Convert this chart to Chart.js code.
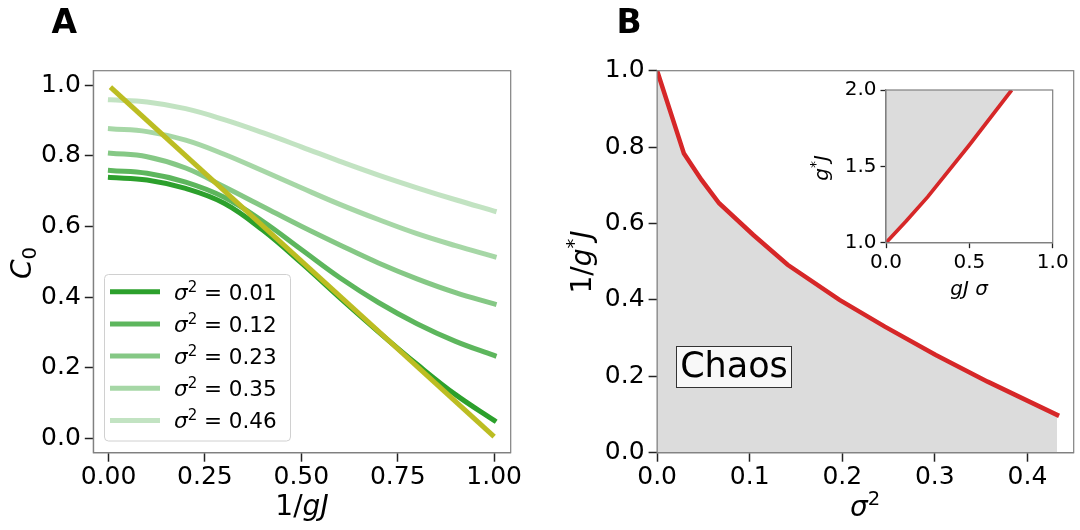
<!DOCTYPE html>
<html>
<head>
<meta charset="utf-8">
<script src="https://cdn.jsdelivr.net/npm/chart.js@4.4.1/dist/chart.umd.min.js"></script>
<style>
  html, body { margin: 0; padding: 0; background: #fff; }
  #wrap { position: relative; width: 1080px; height: 530px; overflow: hidden; }
  #wrap canvas { position: absolute; }
</style>
</head>
<body>
<div id="wrap">
  <canvas id="chartA" width="540" height="530" style="left:0;top:0"></canvas>
  <canvas id="chartB" width="540" height="530" style="left:540px;top:0"></canvas>
  <canvas id="chartInset" width="280" height="260" style="left:800px;top:60px"></canvas>
</div>
<script>
// === DATA ===
// panel A : C0 vs 1/gJ
const invGJ = [0.005, 0.1, 0.2, 0.3, 0.4, 0.5, 0.6, 0.7, 0.8, 0.9, 1.0];
const sigmaSq = ["0.01", "0.12", "0.23", "0.35", "0.46"];
const c0_s001 = [0.739, 0.732, 0.708, 0.666, 0.590, 0.497, 0.398, 0.302, 0.210, 0.124, 0.051];
const c0_s012 = [0.759, 0.751, 0.726, 0.683, 0.615, 0.535, 0.455, 0.385, 0.325, 0.275, 0.235];
const c0_s023 = [0.808, 0.798, 0.766, 0.713, 0.657, 0.601, 0.548, 0.497, 0.452, 0.413, 0.381];
const c0_s035 = [0.877, 0.869, 0.845, 0.805, 0.758, 0.710, 0.663, 0.620, 0.580, 0.546, 0.515];
const c0_s046 = [0.959, 0.953, 0.934, 0.903, 0.866, 0.826, 0.785, 0.746, 0.710, 0.676, 0.644];
const diagX = [0.005, 1.0];
const diagY = [0.995, 0.005];

// panel B : critical 1/g*J vs sigma^2
const sigma2 = [0, 0.029, 0.048, 0.067, 0.104, 0.141, 0.197, 0.246, 0.301, 0.357, 0.432];
const invGStarJ = [1.0, 0.783, 0.714, 0.653, 0.570, 0.492, 0.400, 0.330, 0.256, 0.186, 0.099];

// inset : g*J vs gJ sigma
const gJsigma = [0, 0.12, 0.25, 0.5, 0.754];
const gStarJ = [1.0, 1.14, 1.30, 1.64, 2.0];

// tick values
const ticksA_x = [0, 0.25, 0.5, 0.75, 1.0];
const ticksA_y = [0, 0.2, 0.4, 0.6, 0.8, 1.0];
const ticksB_x = [0, 0.1, 0.2, 0.3, 0.4];
const ticksB_y = [0, 0.2, 0.4, 0.6, 0.8, 1.0];
const ticksIn_x = [0, 0.5, 1.0];
const ticksIn_y = [1.0, 1.5, 2.0];

// === STYLE ===
const FF = '"DejaVu Sans", sans-serif';
const SPINE = "#808080";
const greenAlpha = [1.0, 0.77, 0.58, 0.42, 0.29];

function fnt(size, style) {
  return (style ? style + " " : "") + size + "px " + FF;
}

// draw text made of several runs (italic / sub / superscript)
function drawRuns(ctx, runs, x, y, align) {
  let total = 0;
  runs.forEach(r => { ctx.font = r.font; r.w = ctx.measureText(r.text).width; total += r.w; });
  let cx = align === "center" ? x - total / 2 : (align === "right" ? x - total : x);
  ctx.textAlign = "left";
  ctx.textBaseline = "alphabetic";
  ctx.fillStyle = "#000";
  runs.forEach(r => { ctx.font = r.font; ctx.fillText(r.text, cx, y + (r.dy || 0)); cx += r.w; });
}

function drawRotated(ctx, runs, x, y) {
  ctx.save();
  ctx.translate(x, y);
  ctx.rotate(-Math.PI / 2);
  drawRuns(ctx, runs, 0, 0, "center");
  ctx.restore();
}

function fixBox(size) {
  return function (scale) {
    if (scale.isHorizontal()) scale.height = size; else scale.width = size;
    scale.paddingLeft = 0; scale.paddingRight = 0;
    scale.paddingTop = 0; scale.paddingBottom = 0;
  };
}

function axis(min, max, tickVals, digits, o) {
  return {
    type: "linear", min: min, max: max,
    afterFit: fixBox(o.size),
    afterBuildTicks: s => { s.ticks = tickVals.map(v => ({ value: v })); },
    border: { display: true, color: SPINE, width: 1.2 },
    grid: { drawOnChartArea: false, drawTicks: true, tickLength: o.tick, tickWidth: o.tw, tickColor: "#222" },
    ticks: {
      padding: o.pad, color: "#000", autoSkip: false, maxRotation: 0,
      font: { family: FF, size: o.fs },
      callback: v => Number(v).toFixed(digits)
    }
  };
}

const framePlugin = {
  id: "frame",
  beforeDraw(chart) {
    if (chart.canvas.id !== "chartInset") return;
    const a = chart.chartArea, ctx = chart.ctx;
    ctx.save();
    ctx.fillStyle = "#fff";
    ctx.fillRect(a.left, a.top, a.right - a.left, a.bottom - a.top);
    ctx.restore();
  },
  afterDraw(chart) {
    const a = chart.chartArea, ctx = chart.ctx;
    ctx.save();
    ctx.strokeStyle = SPINE;
    ctx.lineWidth = 1.2;
    ctx.strokeRect(a.left, a.top, a.right - a.left, a.bottom - a.top);
    ctx.restore();
  }
};

function baseOptions(padding) {
  return {
    responsive: false,
    animation: false,
    devicePixelRatio: 1,
    layout: { padding: padding },
    plugins: { legend: { display: false }, tooltip: { enabled: false } },
    elements: { point: { radius: 0 } }
  };
}

// === PANEL A ===
const curvesA = [c0_s001, c0_s012, c0_s023, c0_s035, c0_s046];
const datasetsA = curvesA.map((ys, i) => ({
  label: "σ² = " + sigmaSq[i],
  data: invGJ.map((x, k) => ({ x: x, y: ys[k] })),
  borderColor: "rgba(44,160,44," + greenAlpha[i] + ")",
  borderWidth: 5,
  borderCapStyle: "square",
  tension: 0.4,
  fill: false,
  order: i + 1
}));
datasetsA.push({
  label: "diagonal",
  data: diagX.map((x, k) => ({ x: x, y: diagY[k] })),
  borderColor: "#bcbd22",
  borderWidth: 5,
  borderCapStyle: "butt",
  fill: false,
  order: 0
});

const legendA = {
  id: "legendA",
  afterDraw(chart) {
    const ctx = chart.ctx;
    // box
    ctx.save();
    ctx.beginPath();
    ctx.roundRect(104.5, 274.5, 186, 166.5, 4);
    ctx.fillStyle = "rgba(255,255,255,0.8)";
    ctx.fill();
    ctx.strokeStyle = "#d0d0d0";
    ctx.lineWidth = 1;
    ctx.stroke();
    ctx.restore();
    sigmaSq.forEach((s, i) => {
      const yc = 291.7 + i * 32.2;
      ctx.save();
      ctx.strokeStyle = chart.data.datasets[i].borderColor;
      ctx.lineWidth = 5;
      ctx.beginPath();
      ctx.moveTo(110, yc);
      ctx.lineTo(160, yc);
      ctx.stroke();
      ctx.restore();
      drawRuns(ctx, [
        { text: "σ", font: fnt(21.5, "italic") },
        { text: "2", font: fnt(15), dy: -8 },
        { text: " = " + s, font: fnt(21.5) }
      ], 174, yc + 7.8, "left");
    });
    // axis labels and panel letter
    drawRuns(ctx, [
      { text: "1/", font: fnt(28) },
      { text: "gJ", font: fnt(28, "italic") }
    ], 302, 515, "center");
    drawRotated(ctx, [
      { text: "C", font: fnt(28, "italic") },
      { text: "0", font: fnt(19.6), dy: 5 }
    ], 31, 263);
    drawRuns(ctx, [{ text: "A", font: fnt(33, "bold") }], 51.5, 33.3, "left");
  }
};

new Chart(document.getElementById("chartA"), {
  type: "line",
  data: { datasets: datasetsA },
  options: Object.assign(baseOptions({ left: 0, top: 70.7, right: 29.3, bottom: 0 }), {
    scales: {
      x: axis(-0.0394, 1.043, ticksA_x, 2, { size: 77.3, tick: 9, tw: 1.5, pad: 1, fs: 25 }),
      y: axis(-0.0405, 1.0416, ticksA_y, 1, { size: 93.3, tick: 8.5, tw: 1.5, pad: 4, fs: 25 })
    }
  }),
  plugins: [framePlugin, legendA]
});

// === PANEL B ===
const textB = {
  id: "textB",
  afterDraw(chart) {
    const ctx = chart.ctx;
    // "Chaos" label box
    ctx.save();
    ctx.fillStyle = "rgba(255,255,255,0.8)";
    ctx.fillRect(136.5, 346.5, 115, 41);
    ctx.strokeStyle = "#333";
    ctx.lineWidth = 1;
    ctx.strokeRect(136.5, 346.5, 115, 41);
    ctx.restore();
    drawRuns(ctx, [{ text: "Chaos", font: fnt(35) }], 194, 377, "center");
    drawRuns(ctx, [
      { text: "σ", font: fnt(28, "italic") },
      { text: "2", font: fnt(19.6), dy: -11 }
    ], 325, 516, "center");
    drawRotated(ctx, [
      { text: "1/", font: fnt(28) },
      { text: "g", font: fnt(28, "italic") },
      { text: "*", font: fnt(19.6), dy: -11 },
      { text: "J", font: fnt(28, "italic") }
    ], 51, 262);
    drawRuns(ctx, [{ text: "B", font: fnt(33, "bold") }], 76.4, 33.3, "left");
  }
};

new Chart(document.getElementById("chartB"), {
  type: "line",
  data: {
    datasets: [{
      label: "critical line",
      data: sigma2.map((x, k) => ({ x: x, y: invGStarJ[k] })),
      borderColor: "#d62728",
      borderWidth: 4.5,
      borderCapStyle: "square",
      tension: 0,
      fill: "origin",
      backgroundColor: "#dcdcdc"
    }]
  },
  options: Object.assign(baseOptions({ left: 0, top: 70.7, right: 6.3, bottom: 0 }), {
    scales: {
      x: axis(0, 0.45, ticksB_x, 1, { size: 77.3, tick: 9, tw: 1.5, pad: 1, fs: 25 }),
      y: axis(0, 1.0, ticksB_y, 1, { size: 117.1, tick: 8.5, tw: 1.5, pad: 4, fs: 25 })
    }
  }),
  plugins: [framePlugin, textB]
});

// === INSET ===
const textInset = {
  id: "textInset",
  afterDraw(chart) {
    const ctx = chart.ctx;
    drawRuns(ctx, [{ text: "gJ σ", font: fnt(20, "italic") }], 169, 235, "center");
    drawRotated(ctx, [
      { text: "g", font: fnt(20, "italic") },
      { text: "*", font: fnt(14), dy: -8 },
      { text: "J", font: fnt(20, "italic") }
    ], 28, 108);
  }
};

new Chart(document.getElementById("chartInset"), {
  type: "line",
  data: {
    datasets: [{
      label: "inset",
      data: gJsigma.map((x, k) => ({ x: x, y: gStarJ[k] })),
      borderColor: "#d62728",
      borderWidth: 3.7,
      borderCapStyle: "butt",
      tension: 0,
      fill: "end",
      backgroundColor: "#dcdcdc"
    }]
  },
  options: Object.assign(baseOptions({ left: 0, top: 30, right: 27.3, bottom: 0 }), {
    scales: {
      x: axis(0, 1.0, ticksIn_x, 1, { size: 77.3, tick: 5.5, tw: 1.3, pad: 3, fs: 20 }),
      y: axis(1.0, 2.0, ticksIn_y, 1, { size: 86, tick: 5.5, tw: 1.3, pad: 4, fs: 20 })
    }
  }),
  plugins: [framePlugin, textInset]
});
</script>
</body>
</html>
